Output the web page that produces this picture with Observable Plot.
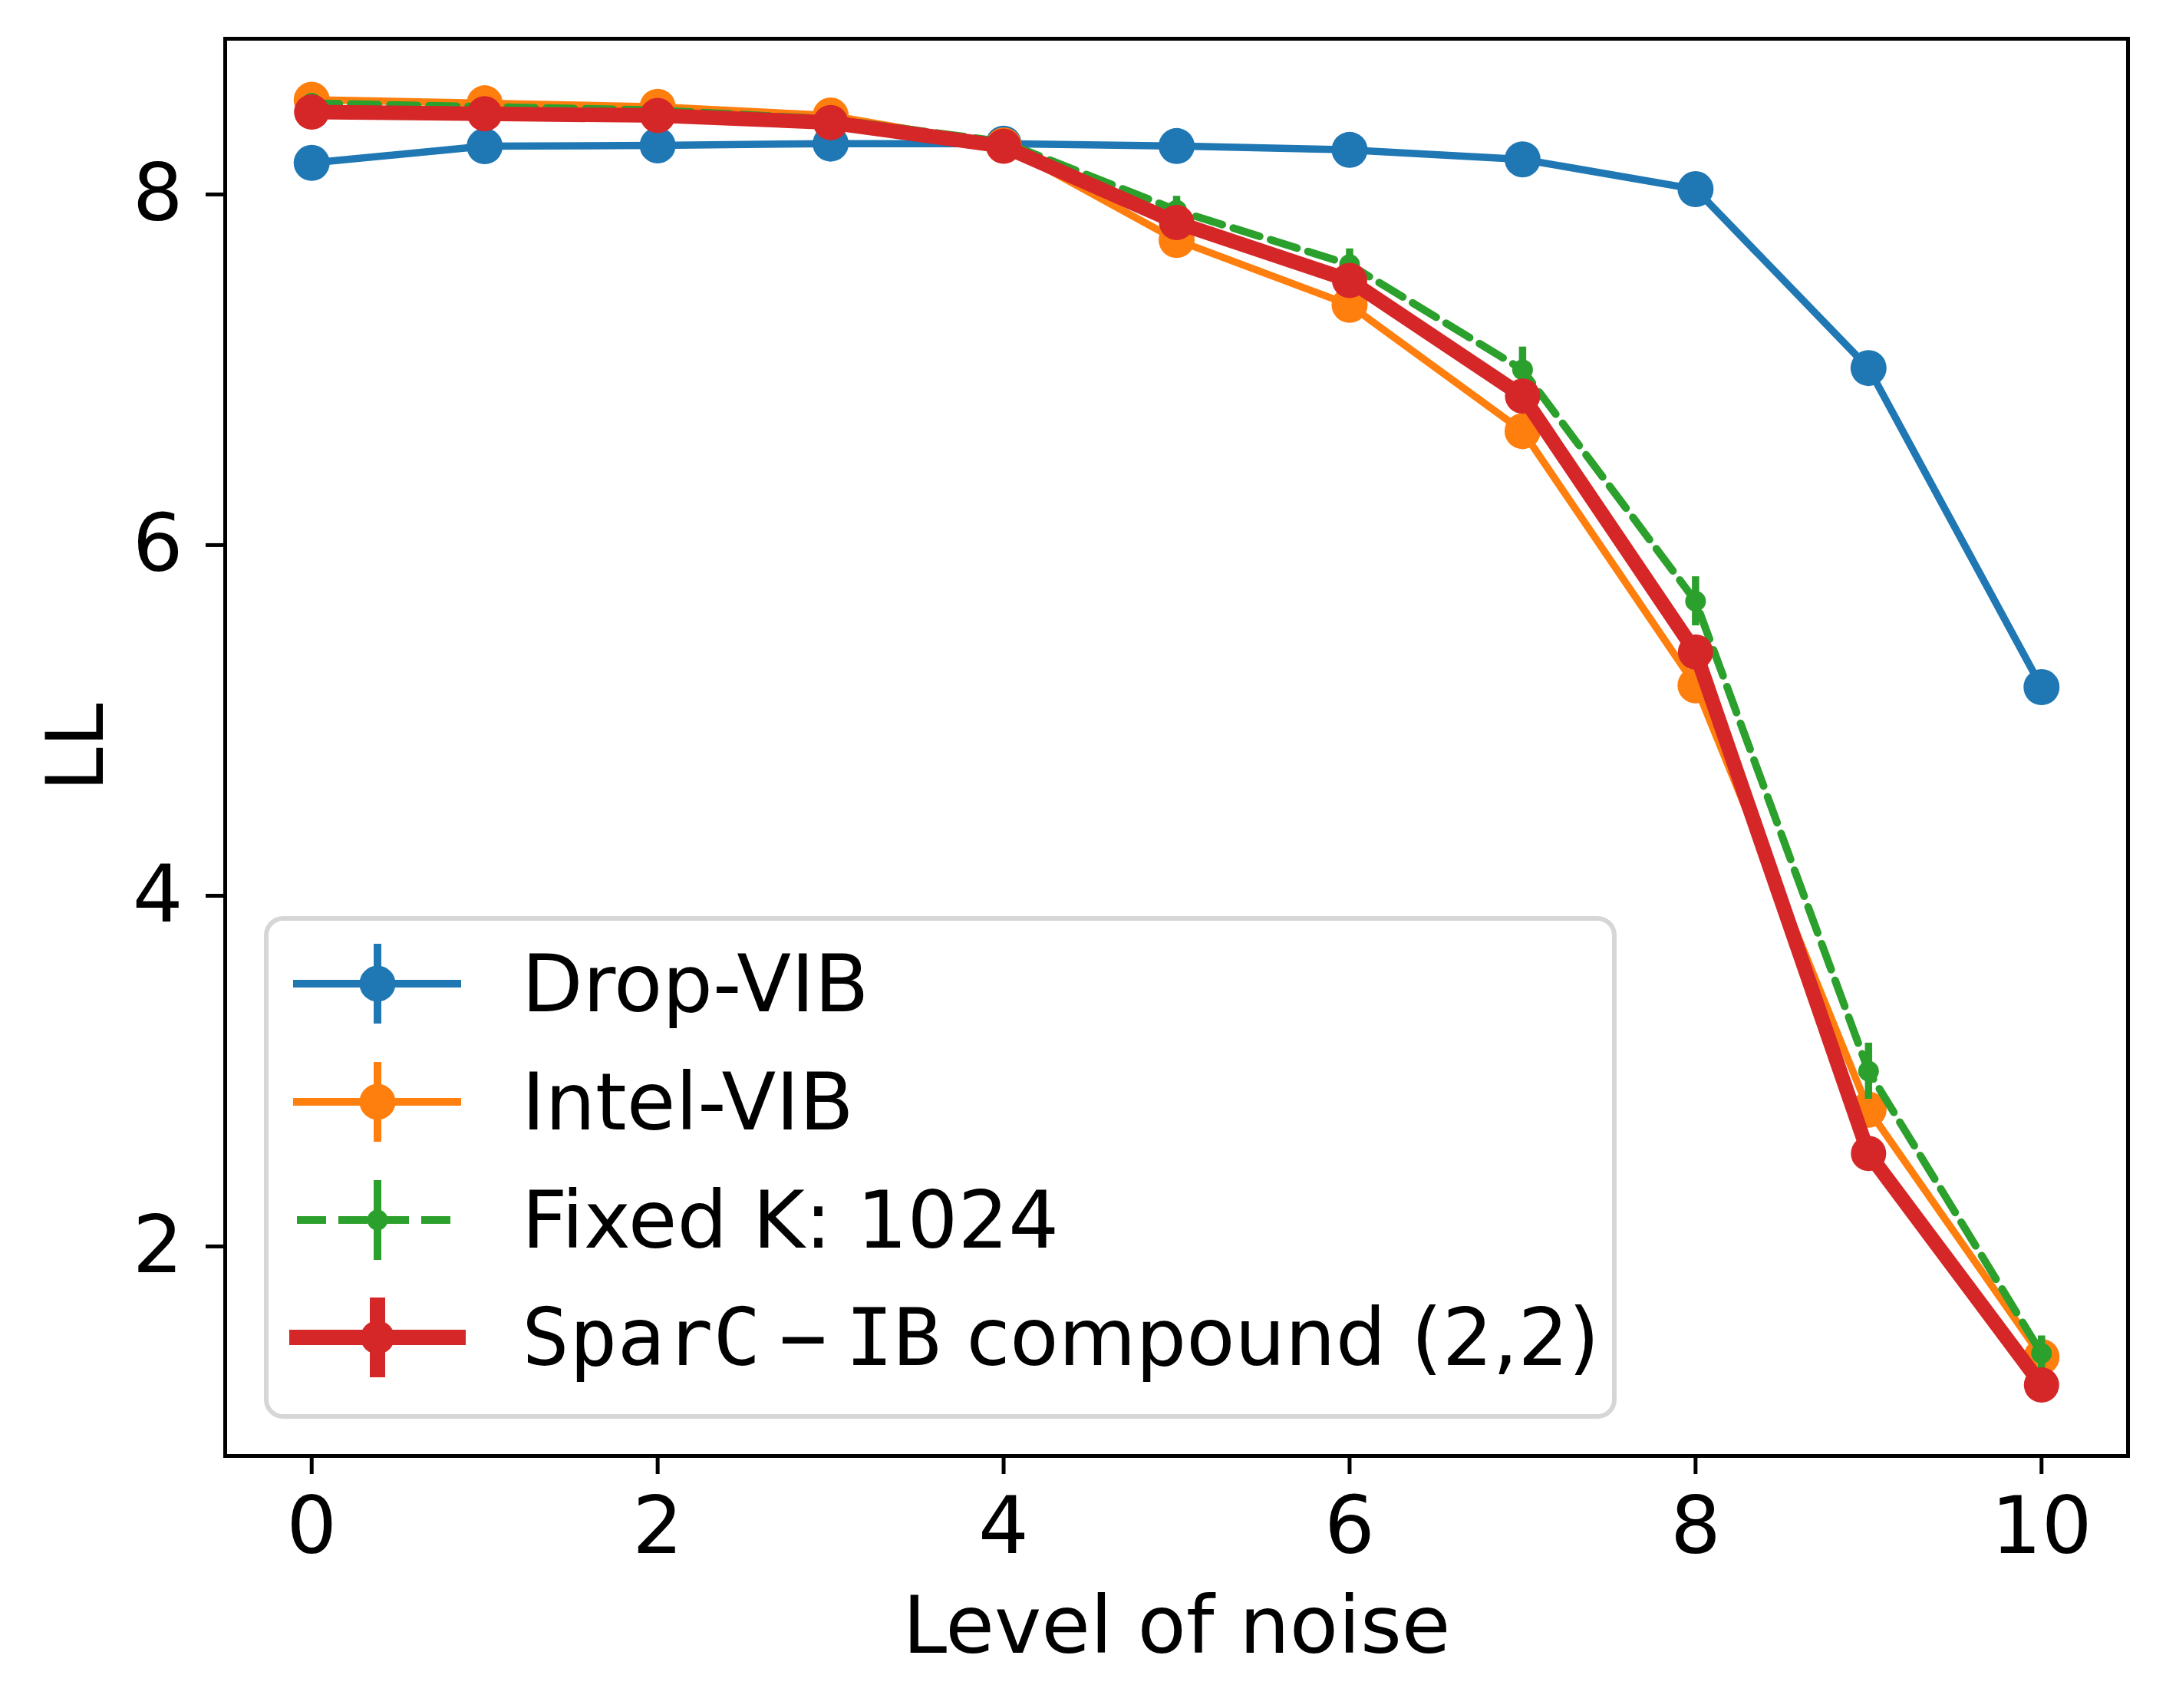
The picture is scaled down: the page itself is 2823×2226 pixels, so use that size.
<!DOCTYPE html>
<html>
<head>
<meta charset="utf-8">
<script src="https://cdn.jsdelivr.net/npm/d3@7"></script>
<script src="https://cdn.jsdelivr.net/npm/@observablehq/plot@0.6"></script>
<style>
  html, body { margin: 0; padding: 0; background: #fff; overflow: hidden; }
  #wrap { position: relative; width: 2823px; height: 2226px; }
  #legend { position: absolute; left: 0; top: 0; pointer-events: none; }
</style>
</head>
<body>
<div id="wrap"></div>
<script>
// ---- data ----
const noiseLevels = [0, 1, 2, 3, 4, 5, 6, 7, 8, 9, 10];
const dropVIB  = [8.18, 8.275, 8.28, 8.29, 8.29, 8.276, 8.254, 8.20, 8.03, 7.01, 5.19];
const intelVIB = [8.54, 8.52, 8.50, 8.45, 8.28, 7.74, 7.37, 6.65, 5.20, 2.78, 1.37];
const fixedK   = [8.52, 8.50, 8.48, 8.43, 8.30, 7.91, 7.60, 7.00, 5.68, 3.00, 1.39];
const fixedKErr = [0.02, 0.02, 0.02, 0.03, 0.03, 0.08, 0.09, 0.13, 0.14, 0.16, 0.10];
const sparcIB  = [8.47, 8.46, 8.45, 8.41, 8.275, 7.84, 7.51, 6.85, 5.39, 2.53, 1.21];
const xTicks = [0, 2, 4, 6, 8, 10];
const yTicks = [2, 4, 6, 8];
const seriesNames = ["Drop-VIB", "Intel-VIB", "Fixed K: 1024", "SparC−IB compound (2,2)"];
const colors = ["#1f77b4", "#ff7f0e", "#2ca02c", "#d62728"];

const toRows = (vals, err) => noiseLevels.map((x, i) => ({x, y: vals[i], e: err ? err[i] : 0}));
const dDrop = toRows(dropVIB), dIntel = toRows(intelVIB), dFixed = toRows(fixedK, fixedKErr), dSparc = toRows(sparcIB);

const FS = 103.5;
const chart = Plot.plot({
  width: 2823, height: 2226,
  marginLeft: 293, marginRight: 50, marginTop: 50, marginBottom: 329,
  style: {fontFamily: "DejaVu Sans", fontSize: FS + "px", background: "#fff", color: "#000"},
  x: {domain: [-0.5, 10.5]},
  y: {domain: [0.805, 8.888]},
  marks: [
    Plot.line(dDrop, {x: "x", y: "y", stroke: colors[0], strokeWidth: 9.5, strokeLinejoin: "round"}),
    Plot.dot(dDrop, {x: "x", y: "y", r: 23.5, fill: colors[0]}),
    Plot.line(dIntel, {x: "x", y: "y", stroke: colors[1], strokeWidth: 9.5, strokeLinejoin: "round"}),
    Plot.dot(dIntel, {x: "x", y: "y", r: 23.5, fill: colors[1]}),
    Plot.line(dFixed, {x: "x", y: "y", stroke: colors[2], strokeWidth: 10, strokeDasharray: "36,15"}),
    Plot.ruleX(dFixed, {x: "x", y1: d => d.y - d.e, y2: d => d.y + d.e, stroke: colors[2], strokeWidth: 9.5}),
    Plot.dot(dFixed, {x: "x", y: "y", r: 13.5, fill: colors[2]}),
    Plot.line(dSparc, {x: "x", y: "y", stroke: colors[3], strokeWidth: 19, strokeLinejoin: "round"}),
    Plot.dot(dSparc, {x: "x", y: "y", r: 23, fill: colors[3]}),
    Plot.axisX({ticks: xTicks, tickSize: 24, tickPadding: 29, fontSize: FS, strokeWidth: 5, label: null, tickFormat: d => String(d)}),
    Plot.axisY({ticks: yTicks, tickSize: 25, tickPadding: 30, fontSize: FS, strokeWidth: 5, label: null, tickFormat: d => String(d)}),
    Plot.text(["Level of noise"], {frameAnchor: "bottom", text: d => d, dy: 256, lineAnchor: "bottom", fontSize: FS}),
    Plot.text(["LL"], {frameAnchor: "left", text: d => d, dx: -193, rotate: -90, textAnchor: "middle", lineAnchor: "middle", fontSize: FS}),
    Plot.frame({stroke: "#000", strokeWidth: 5})
  ]
});
document.getElementById("wrap").appendChild(chart);

// ---- legend overlay (inside the axes, lower left) ----
const svg = d3.select("#wrap").append("svg")
  .attr("id", "legend").attr("width", 2823).attr("height", 2226)
  .style("font-family", "DejaVu Sans").style("font-size", FS + "px");
svg.append("rect")
  .attr("x", 347).attr("y", 1197).attr("width", 2104 - 347).attr("height", 1846 - 1197)
  .attr("rx", 22).attr("ry", 22)
  .attr("fill", "#fff").attr("fill-opacity", 0.8)
  .attr("stroke", "#d6d6d6").attr("stroke-width", 6);

const rowY = [1282, 1436, 1590, 1743];
const handle = [
  {lw: 10, r: 23.5, dash: null, x1: 382, x2: 601},
  {lw: 10, r: 23.5, dash: null, x1: 382, x2: 601},
  {lw: 10, r: 13.5, dash: "38,16", x1: 387, x2: 601},
  {lw: 20, r: 22, dash: null, x1: 377, x2: 607}
];
const cx = 492;
seriesNames.forEach((name, i) => {
  const g = svg.append("g");
  const y = rowY[i], h = handle[i];
  const ln = g.append("line").attr("x1", h.x1).attr("x2", h.x2).attr("y1", y).attr("y2", y)
    .attr("stroke", colors[i]).attr("stroke-width", h.lw);
  if (h.dash) ln.attr("stroke-dasharray", h.dash);
  g.append("line").attr("x1", cx).attr("x2", cx).attr("y1", y - 52).attr("y2", y + 52)
    .attr("stroke", colors[i]).attr("stroke-width", h.lw);
  g.append("circle").attr("cx", cx).attr("cy", y).attr("r", h.r).attr("fill", colors[i]);
  const t = g.append("text").attr("x", 680).attr("y", y + 36).attr("fill", "#000");
  if (i === 3) {
    const parts = name.split(" ");
    const [a, b] = parts[0].split("−");
    t.append("tspan").attr("font-family", "DejaVu Sans Mono").text(a);
    t.append("tspan").attr("font-family", "DejaVu Sans Mono").attr("dx", 24).text("−");
    t.append("tspan").attr("font-family", "DejaVu Sans Mono").attr("dx", 24).text(b);
    t.append("tspan").text(" " + parts.slice(1).join(" "));
  } else {
    t.text(name);
  }
});
</script>
</body>
</html>
